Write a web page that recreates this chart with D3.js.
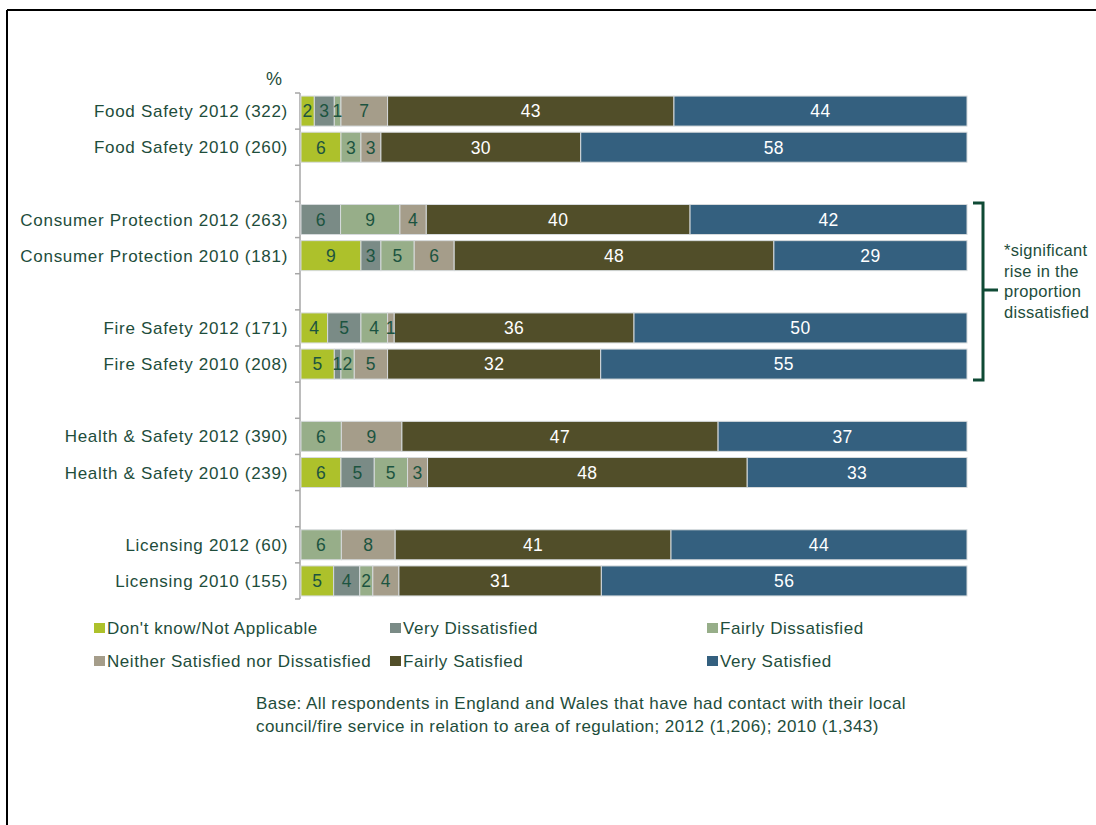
<!DOCTYPE html>
<html>
<head>
<meta charset="utf-8">
<script src="https://cdn.jsdelivr.net/npm/d3@7"></script>
<style>
  html, body { margin: 0; padding: 0; background: #fff; }
  svg { display: block; }
  text { font-family: "Liberation Sans", Arial, sans-serif; }
</style>
</head>
<body>
<svg id="chart" width="1096" height="825"></svg>
<script>
// ---- data ----
const categories = [
  "Food Safety 2012 (322)", "Food Safety 2010 (260)", "",
  "Consumer Protection 2012 (263)", "Consumer Protection 2010 (181)", "",
  "Fire Safety 2012 (171)", "Fire Safety 2010 (208)", "",
  "Health & Safety 2012 (390)", "Health & Safety 2010 (239)", "",
  "Licensing 2012 (60)", "Licensing 2010 (155)"
];
const seriesNames = [
  "Don't know/Not Applicable", "Very Dissatisfied", "Fairly Dissatisfied",
  "Neither Satisfied nor Dissatisfied", "Fairly Satisfied", "Very Satisfied"
];
const dontKnow          = [2, 6, null, 0, 9, null, 4, 5, null, 0, 6, null, 0, 5];
const veryDissatisfied  = [3, 0, null, 6, 3, null, 5, 1, null, 0, 5, null, 0, 4];
const fairlyDissatisfied= [1, 3, null, 9, 5, null, 4, 2, null, 6, 5, null, 6, 2];
const neither           = [7, 3, null, 4, 6, null, 1, 5, null, 9, 3, null, 8, 4];
const fairlySatisfied   = [43, 30, null, 40, 48, null, 36, 32, null, 47, 48, null, 41, 31];
const verySatisfied     = [44, 58, null, 42, 29, null, 50, 55, null, 37, 33, null, 44, 56];
const seriesValues = [dontKnow, veryDissatisfied, fairlyDissatisfied, neither, fairlySatisfied, verySatisfied];
const colors = ["#adc12b", "#7a8b86", "#97ae89", "#a59d8a", "#514e29", "#34607f"];
const labelColors = ["#1c5440", "#1c5440", "#1c5440", "#1c5440", "#ffffff", "#ffffff"];
const noteLines = ["*significant", "rise in the", "proportion", "dissatisfied"];
const footLines = [
  "Base: All respondents in England and Wales that have had contact with their local",
  "council/fire service in relation to area of regulation; 2012 (1,206); 2010 (1,343)"
];

// ---- layout ----
const svg = d3.select("#chart");
const textCol = "#1e4d3b";

// frame
svg.append("line").attr("x1", 7).attr("x2", 1096).attr("y1", 10).attr("y2", 10)
  .attr("stroke", "#000").attr("stroke-width", 2);
svg.append("line").attr("x1", 7).attr("x2", 7).attr("y1", 10).attr("y2", 825)
  .attr("stroke", "#000").attr("stroke-width", 2);

const x = d3.scaleLinear().domain([0, 1]).range([301, 967]);
const y = d3.scaleBand().domain(d3.range(categories.length)).range([93, 599]).paddingInner(0.17).paddingOuter(0.085);

// axis
const axisG = svg.append("g").attr("transform", "translate(300,0)");
axisG.append("line").attr("x1", 0).attr("x2", 0).attr("y1", 93).attr("y2", 599)
  .attr("stroke", "#a6a6a6").attr("stroke-width", 1.5);
const step = (599 - 93) / categories.length;
d3.range(categories.length + 1).forEach(i => {
  axisG.append("line").attr("x1", -5).attr("x2", 0)
    .attr("y1", 93 + i * step).attr("y2", 93 + i * step)
    .attr("stroke", "#a6a6a6").attr("stroke-width", 1.5);
});

// category labels
svg.append("g").selectAll("text").data(categories.map((c, i) => ({c, i})).filter(d => d.c))
  .join("text")
  .attr("x", 288)
  .attr("y", d => y(d.i) + y.bandwidth() / 2)
  .attr("dy", "0.36em")
  .attr("text-anchor", "end")
  .attr("font-size", 17)
  .attr("letter-spacing", 0.7)
  .attr("fill", textCol)
  .text(d => d.c);

svg.append("text").attr("x", 282).attr("y", 85).attr("text-anchor", "end")
  .attr("font-size", 18).attr("fill", textCol).text("%");

// stacked rows (normalised to 100%)
const rows = categories.map((c, i) => {
  if (!c) return null;
  const vals = seriesValues.map(s => s[i]);
  const total = d3.sum(vals);
  let cum = 0;
  return vals.map((v, k) => {
    const seg = {row: i, k, v, x0: cum / total, x1: (cum + v) / total};
    cum += v;
    return seg;
  });
}).filter(r => r);
const segs = rows.flat().filter(s => s.v > 0);

svg.append("g").selectAll("rect").data(segs).join("rect")
  .attr("x", d => x(d.x0))
  .attr("width", d => x(d.x1) - x(d.x0))
  .attr("y", d => y(d.row))
  .attr("height", y.bandwidth())
  .attr("fill", d => colors[d.k])
  .attr("stroke", "#d6dadc")
  .attr("stroke-width", 1);

svg.append("g").selectAll("text").data(segs).join("text")
  .attr("x", d => (x(d.x0) + x(d.x1)) / 2)
  .attr("y", d => y(d.row) + y.bandwidth() / 2)
  .attr("dy", "0.36em")
  .attr("text-anchor", "middle")
  .attr("font-size", 17.5)
  .attr("letter-spacing", 0.4)
  .attr("fill", d => labelColors[d.k])
  .text(d => d.v);

// bracket
const br = svg.append("g").attr("stroke", "#0f4a35").attr("stroke-width", 3).attr("fill", "none");
br.append("path").attr("d", "M973,203 H983 V380 H973");
br.append("path").attr("d", "M983,290 H998");
svg.append("g").selectAll("text").data(noteLines).join("text")
  .attr("x", 1004).attr("y", (d, i) => 256 + i * 20.5)
  .attr("font-size", 16.5).attr("letter-spacing", 0.3).attr("fill", textCol).text(d => d);

// legend
const legPos = [[94, 627], [390, 627], [707, 627], [94, 660], [390, 660], [707, 660]];
const leg = svg.append("g").selectAll("g").data(seriesNames).join("g")
  .attr("transform", (d, i) => `translate(${legPos[i][0]},${legPos[i][1]})`);
leg.append("rect").attr("x", 0).attr("y", -4).attr("width", 11).attr("height", 10)
  .attr("fill", (d, i) => colors[i]);
leg.append("text").attr("x", 13).attr("y", 1).attr("dy", "0.36em")
  .attr("font-size", 17).attr("letter-spacing", 0.55).attr("fill", textCol).text(d => d);

// footnote
svg.append("g").selectAll("text").data(footLines).join("text")
  .attr("x", 256).attr("y", (d, i) => 709 + i * 23)
  .attr("font-size", 17).attr("letter-spacing", 0.45).attr("fill", textCol).text(d => d);
</script>
</body>
</html>
